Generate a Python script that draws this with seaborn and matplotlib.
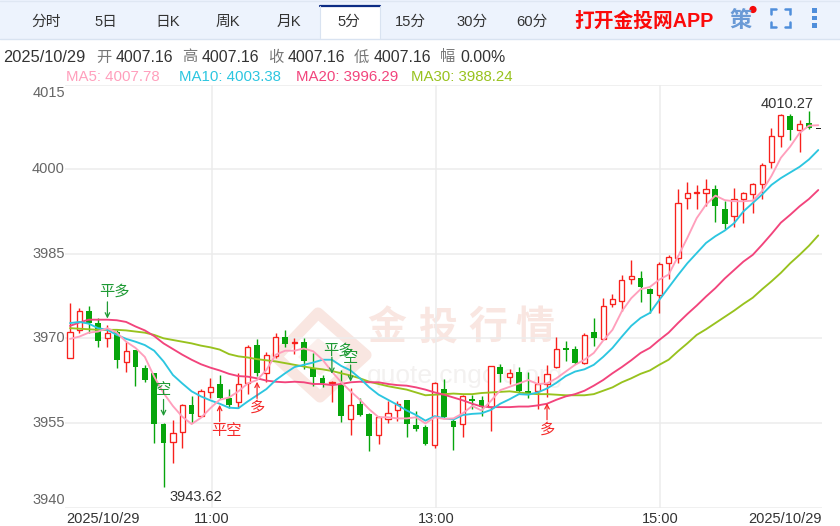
import pandas as pd
import matplotlib
matplotlib.use('Agg')
import matplotlib.pyplot as plt
from matplotlib.patches import Polygon, Rectangle, Circle
import seaborn as sns

# K线数据 (5分钟)
opens = [3966.5, 3971.5, 3974.8, 3972.8, 3970.0, 3971.2, 3965.8, 3968.0, 3964.7, 3963.9,
         3954.8, 3951.6, 3953.3, 3958.2, 3956.2, 3960.4, 3961.9, 3959.4, 3958.7, 3962.0,
         3968.8, 3963.8, 3966.9, 3970.3, 3969.1, 3969.3, 3964.7, 3962.9, 3962.0, 3961.7,
         3955.7, 3958.4, 3956.6, 3952.8, 3955.7, 3957.2, 3959.1, 3954.6, 3954.2, 3951.0,
         3961.0, 3955.4, 3954.8, 3959.2, 3959.1, 3957.9, 3965.0, 3963.1, 3964.1, 3960.6,
         3960.6, 3961.9, 3964.9, 3968.2, 3968.1, 3965.7, 3971.2, 3969.9, 3976.1, 3976.7,
         3980.5, 3980.7, 3978.7, 3977.6, 3983.3, 3984.2, 3994.9, 3995.7, 3995.8, 3996.4,
         3993.0, 3991.6, 3994.7, 3995.6, 3997.4, 4001.3, 4005.8, 4009.5, 4007.0, 4008.1,
         4007.16]
closes = [3971.2, 3974.8, 3972.7, 3969.6, 3970.9, 3966.2, 3967.8, 3964.9, 3962.6, 3954.8,
          3951.4, 3953.2, 3958.1, 3956.5, 3960.6, 3961.4, 3959.4, 3958.2, 3961.9, 3968.5,
          3963.8, 3967.0, 3970.3, 3969.0, 3969.3, 3966.0, 3963.1, 3962.0, 3962.2, 3956.2,
          3958.1, 3956.4, 3952.7, 3956.1, 3956.7, 3958.3, 3954.8, 3954.0, 3951.3, 3962.0,
          3956.1, 3954.2, 3959.7, 3958.8, 3957.9, 3965.0, 3963.7, 3963.8, 3960.7, 3960.3,
          3961.9, 3963.6, 3968.1, 3968.0, 3965.7, 3970.6, 3970.0, 3975.8, 3976.9, 3980.3,
          3981.0, 3979.1, 3977.8, 3983.2, 3984.5, 3994.0, 3995.8, 3995.8, 3996.5, 3993.5,
          3990.3, 3994.7, 3995.8, 3997.4, 4000.7, 4005.8, 4009.6, 4006.9, 4008.0, 4007.2,
          4007.16]
highs = [3976.2, 3975.3, 3975.8, 3973.6, 3972.4, 3971.5, 3969.4, 3968.0, 3965.3, 3963.9,
         3955.0, 3955.5, 3958.4, 3959.7, 3961.0, 3962.9, 3963.5, 3961.0, 3963.8, 3968.9,
         3969.9, 3967.5, 3971.0, 3971.5, 3970.0, 3970.0, 3967.4, 3963.5, 3962.5, 3964.4,
         3961.2, 3959.4, 3956.7, 3956.2, 3958.8, 3958.8, 3959.1, 3957.1, 3954.6, 3962.2,
         3962.7, 3955.9, 3960.0, 3960.0, 3959.7, 3965.1, 3965.4, 3964.5, 3964.9, 3964.0,
         3963.3, 3965.3, 3970.3, 3969.6, 3968.7, 3970.9, 3973.6, 3977.2, 3977.9, 3981.2,
         3983.9, 3982.0, 3978.9, 3983.6, 3984.7, 3996.5, 3997.7, 3997.2, 3998.2, 3997.2,
         3994.3, 3996.6, 3995.9, 3997.5, 4001.0, 4007.3, 4009.8, 4009.7, 4008.7, 4010.27,
         4007.16]
lows = [3966.5, 3970.9, 3970.9, 3968.5, 3968.4, 3964.7, 3964.1, 3961.6, 3962.3, 3951.4,
        3943.62, 3947.9, 3950.6, 3954.9, 3956.0, 3959.4, 3959.2, 3957.6, 3957.6, 3960.1,
        3963.3, 3962.2, 3966.5, 3968.4, 3967.3, 3964.5, 3961.6, 3961.3, 3958.7, 3955.2,
        3952.9, 3956.2, 3950.1, 3951.3, 3954.9, 3955.4, 3952.5, 3953.6, 3951.1, 3950.5,
        3955.8, 3950.2, 3952.5, 3957.4, 3956.2, 3953.5, 3962.3, 3961.9, 3960.3, 3959.4,
        3957.4, 3959.6, 3964.7, 3965.9, 3965.5, 3965.5, 3968.7, 3969.7, 3975.6, 3974.9,
        3979.6, 3976.5, 3974.5, 3974.5, 3980.6, 3983.3, 3993.0, 3992.9, 3993.5, 3990.6,
        3989.3, 3989.7, 3990.4, 3992.3, 3994.7, 4000.2, 4003.9, 4005.1, 4003.0, 4007.1,
        4007.16]

ma5 = [3969.9, 3970.3, 3971.0, 3971.2, 3971.8, 3971.0, 3969.4, 3968.3, 3966.7, 3963.2,
       3960.3, 3958.0, 3956.1, 3954.8, 3955.9, 3957.6, 3959.1, 3959.5, 3960.6, 3962.0,
       3962.6, 3964.4, 3967.1, 3967.8, 3967.8, 3968.2, 3967.7, 3966.2, 3964.1, 3962.2,
       3960.6, 3959.1, 3957.4, 3956.0, 3956.0, 3955.8, 3955.8, 3956.0, 3954.9, 3956.0,
       3955.7, 3955.8, 3956.7, 3958.0, 3957.2, 3958.9, 3960.8, 3961.4, 3962.0, 3962.6,
       3961.9, 3962.0, 3962.9, 3964.1, 3965.3, 3966.2, 3967.4, 3969.6, 3971.5, 3974.8,
       3977.1, 3978.7, 3979.1, 3980.4, 3981.3, 3984.5, 3987.8, 3991.3, 3993.7, 3995.3,
       3994.5, 3994.3, 3994.3, 3994.4, 3996.1, 3998.8, 4002.0, 4004.0, 4006.4, 4007.7,
       4007.78]
ma10 = [3972.7, 3972.9, 3972.6, 3971.8, 3971.5, 3970.6, 3969.9, 3969.4, 3968.8, 3967.8,
        3965.9, 3963.5, 3962.0, 3960.6, 3959.7, 3959.0, 3958.4, 3957.7, 3957.6, 3958.8,
        3959.9, 3961.0, 3962.6, 3963.8, 3964.9, 3965.3, 3965.7, 3966.2, 3966.2, 3965.1,
        3964.3, 3962.9, 3961.3, 3960.0, 3959.1, 3958.2, 3957.2, 3956.4, 3955.4, 3956.2,
        3955.8, 3955.6, 3956.4, 3956.6, 3956.7, 3957.3, 3958.4, 3959.2, 3960.1, 3960.0,
        3960.4, 3961.1, 3962.1, 3963.3, 3964.1, 3964.5, 3965.3, 3966.7, 3968.3, 3970.3,
        3972.2, 3973.6, 3974.5, 3976.8, 3979.0, 3981.2, 3983.3, 3985.1, 3986.9, 3988.1,
        3989.1, 3990.4, 3992.5, 3994.0, 3995.5, 3997.2, 3998.4, 3999.4, 4000.4, 4001.7,
        4003.38]
ma20 = [3972.2, 3972.8, 3973.3, 3973.3, 3973.3, 3973.2, 3972.9, 3972.1, 3971.4, 3970.4,
        3969.1, 3968.1, 3967.1, 3966.2, 3965.4, 3964.8, 3964.3, 3963.7, 3963.3, 3963.2,
        3962.9, 3962.5, 3962.3, 3962.2, 3962.3, 3962.2, 3961.9, 3961.9, 3961.7, 3961.9,
        3962.2, 3962.3, 3962.2, 3962.2, 3961.9, 3961.7, 3961.6, 3961.3, 3960.9, 3960.4,
        3960.0, 3959.5, 3959.0, 3958.4, 3957.9, 3957.8, 3957.8, 3957.8, 3957.9, 3957.9,
        3958.1, 3958.4, 3959.1, 3959.7, 3960.1, 3960.7, 3961.6, 3962.6, 3963.8, 3964.9,
        3966.1, 3967.4, 3968.3, 3969.7, 3971.0, 3972.7, 3974.3, 3975.8, 3977.4, 3978.9,
        3980.6, 3982.1, 3983.6, 3984.8, 3986.6, 3988.5, 3990.5, 3991.9, 3993.4, 3994.7,
        3996.29]
ma30 = [3971.8, 3971.7, 3971.6, 3971.5, 3971.5, 3971.5, 3971.4, 3971.2, 3971.0, 3970.6,
        3970.0, 3969.7, 3969.4, 3969.1, 3968.7, 3968.4, 3968.0, 3967.2, 3966.8, 3966.6,
        3966.3, 3966.1, 3965.9, 3965.6, 3965.3, 3965.0, 3964.7, 3964.5, 3964.2, 3963.8,
        3963.4, 3962.9, 3962.3, 3961.9, 3961.5, 3961.2, 3960.9, 3960.4, 3959.9, 3960.0,
        3960.1, 3960.2, 3960.1, 3960.1, 3960.3, 3960.4, 3960.5, 3960.6, 3960.4, 3960.2,
        3960.1, 3960.1, 3960.0, 3959.9, 3959.9, 3959.9, 3960.1, 3960.7, 3961.3, 3962.2,
        3962.9, 3963.7, 3964.3, 3965.3, 3966.2, 3967.7, 3969.1, 3970.6, 3971.6, 3972.7,
        3973.8, 3974.9, 3976.1, 3977.2, 3978.7, 3980.1, 3981.6, 3983.3, 3984.8, 3986.4,
        3988.24]

y_ticks = [4015, 4000, 3985, 3970, 3955, 3940]
time_labels = ['11:00', '13:00', '15:00']
tabs = ['分时', '5日', '日K', '周K', '月K', '5分', '15分', '30分', '60分']
ma_names = ['MA5', 'MA10', 'MA20', 'MA30']
ma_last = ['4007.78', '4003.38', '3996.29', '3988.24']
# 买卖信号: 下标, 箭头尖价格, 文字
signals = [(4, 3973.5, '平多'), (10, 3956.2, '空'), (16, 3958.2, '平空'), (20, 3962.3, '多'),
           (28, 3963.7, '平多'), (30, 3962.3, '空'), (51, 3958.5, '多')]

RED = '#f8211d'
GREEN = '#07a50c'
ma_colors = {'MA5': '#ff9fbc', 'MA10': '#2cc6e0', 'MA20': '#f2447c', 'MA30': '#98c21e'}

sns.set_theme(style='white')
plt.rcParams['font.family'] = ['Liberation Sans', 'Noto Sans CJK SC', 'DejaVu Sans']

W, H = 840, 526
fig = plt.figure(figsize=(W / 100, H / 100), dpi=100, facecolor='white')

# 底层: 用像素坐标画工具栏, 水印, 文字
bg = fig.add_axes([0, 0, 1, 1], zorder=0)
bg.set_xlim(0, W)
bg.set_ylim(H, 0)
bg.axis('off')

bg.add_patch(Rectangle((0, 0), W, 38.5, color='#edf3fd', lw=0))
bg.plot([0, W], [38.5, 38.5], color='#d9e3f1', lw=1)
bg.plot([0, W], [0.5, 0.5], color='#dfe7f3', lw=1)
bg.add_patch(Rectangle((319.5, 5), 60, 34, color='white', lw=0))
bg.plot([319.5, 379.5], [6, 6], color='#0c2c84', lw=1.6)
bg.plot([319.5, 319.5], [6, 38], color='#d9e3f1', lw=0.8)
bg.plot([379.5, 379.5], [6, 38], color='#d9e3f1', lw=0.8)

tab_x = [46, 106, 168, 228, 289, 349, 410, 472, 532]
for t, x in zip(tabs, tab_x):
    bg.text(x, 22, t, ha='center', va='center', fontsize=10.6, color='#333333')

bg.text(574, 21, '打开金投网APP', ha='left', va='center', fontsize=14.2, fontweight='bold', color='#fb0a0a')
bg.text(741, 21, '策', ha='center', va='center', fontsize=16, fontweight='bold', color='#6a9ad6')
bg.add_patch(Circle((753, 9.5), 3.6, color='#f50a0a', lw=0))
for cx, cy, dx, dy in [(771, 9, 1, 1), (790, 9, -1, 1), (771, 27, 1, -1), (790, 27, -1, -1)]:
    bg.plot([cx + 5 * dx, cx, cx], [cy, cy, cy + 5 * dy], color='#4f8edb', lw=1.8, solid_joinstyle='miter')
for cy in [10, 17.5, 25]:
    bg.add_patch(Rectangle((812, cy - 2), 4.5, 4.5, color='#4f8edb', lw=0))

# 日期行
info_y = 57.5
bg.text(3, info_y, '2025/10/29', va='center', fontsize=11.8, color='#333333')
for label, lx, vx, value in [('开', 96, 116, '4007.16'), ('高', 182, 202, '4007.16'), ('收', 268, 288, '4007.16'),
                             ('低', 354, 374, '4007.16'), ('幅', 440, 460, '0.00%')]:
    bg.text(lx, info_y, label, va='center', fontsize=11, color='#777777')
    bg.text(vx, info_y, value, va='center', fontsize=11.4, color='#333333')
for name, value, x in zip(ma_names, ma_last, [66, 179, 296, 411]):
    bg.text(x, 77, f'{name}: {value}', va='center', fontsize=10.8, color=ma_colors[name])

# 水印
wm = '#f9e6e1'
bg.add_patch(Polygon([(318, 313), (366, 355), (320, 397), (276, 357)], closed=True, fill=False,
                     edgecolor=wm, lw=8, joinstyle='round'))
bg.add_patch(Polygon([(318, 338), (342, 356), (320, 376), (298, 357)], closed=True, color='#fbefec', lw=0))
for ch, x in zip('金投行情', [387, 438, 488, 535]):
    bg.text(x, 329, ch, ha='center', va='center', fontsize=28, fontweight='bold', color=wm)
bg.text(367, 376, 'quote.cngold.org', ha='left', va='center', fontsize=19, color='#f3f1f0')

# K线主图
ax = fig.add_axes([65 / W, 1 - 507.5 / H, (822 - 65) / W, (507.5 - 84.5) / H], zorder=1)
ax.patch.set_alpha(0)
df = pd.DataFrame({'i': range(len(opens)), 'open': opens, 'close': closes, 'high': highs, 'low': lows})
df['top'] = df[['open', 'close']].max(axis=1)
df['bottom'] = df[['open', 'close']].min(axis=1)

ax.set_xlim(-0.535, 80.4)
ax.set_ylim(3940, 4015)
for v in y_ticks:
    ax.axhline(v, color='#ececec', lw=1.1, zorder=1)
grid_x = [15.15, 39.1, 63.07]
for v in grid_x:
    ax.axvline(v, color='#ececec', lw=1.1, zorder=1)

up = df[(df.close >= df.open) & (df.i < 80)]
down = df[df.close < df.open]
ax.vlines(up.i, up.low, up.high, color=RED, lw=1.0, zorder=2)
ax.vlines(down.i, down.low, down.high, color=GREEN, lw=1.0, zorder=2)
ax.bar(up.i, (up.top - up.bottom).clip(lower=0.2), bottom=up.bottom, width=0.56, facecolor='white',
       edgecolor=RED, linewidth=0.95, zorder=3)
ax.bar(down.i, down.top - down.bottom, bottom=down.bottom, width=0.62, color=GREEN, linewidth=0, zorder=3)
last = df.iloc[-1]
ax.bar(last.i, 0.25, bottom=last.close - 0.12, width=0.5, color='#222222', linewidth=0, zorder=3)

ma_df = pd.DataFrame({'i': range(len(ma5)), 'MA5': ma5, 'MA10': ma10, 'MA20': ma20, 'MA30': ma30})
ma_long = ma_df.melt(id_vars='i', var_name='ma', value_name='price')
sns.lineplot(data=ma_long, x='i', y='price', hue='ma', hue_order=['MA30', 'MA20', 'MA10', 'MA5'],
             palette=ma_colors, estimator=None, linewidth=1.35, legend=False, ax=ax, zorder=4)

ax.set_xlabel('')
ax.set_ylabel('')
ax.set_xticks([])
ax.set_yticks([])
sns.despine(ax=ax, left=True, bottom=True)

# 信号箭头
for i, tip, text in signals:
    red_signal = text in ('多', '平空')
    color = '#f52a2a' if red_signal else '#1f9a35'
    sign = -1 if red_signal else 1
    ax.annotate('', xy=(i, tip), xytext=(0, sign * 12), textcoords='offset points',
                arrowprops=dict(arrowstyle='->', color=color, lw=0.9, shrinkA=0, shrinkB=0,
                                mutation_scale=8), zorder=6)
    shift = 5 if len(text) == 2 else 0
    off = 17 if i in (28, 30) else 19
    ax.annotate(text, xy=(i, tip), xytext=(shift, sign * off), textcoords='offset points',
                ha='center', va='center', fontsize=11, color=color, zorder=6)

# 极值标注
ax.annotate('4010.27', xy=(79, 4010.27), xytext=(-16, 5.5), textcoords='offset points',
            ha='center', va='center', fontsize=10.5, color='#333333', zorder=6)
ax.annotate('3943.62', xy=(10, 3943.62), xytext=(23, -7.5), textcoords='offset points',
            ha='center', va='center', fontsize=10.5, color='#333333', zorder=6)

# 坐标文字
ylab_y = {4015: 93, 4000: 169, 3985: 254, 3970: 338, 3955: 423, 3940: 500}
for v, py in ylab_y.items():
    bg.text(65, py, str(v), ha='right', va='center', fontsize=10.5, color='#666666')
bg.text(66, 519, '2025/10/29', ha='left', va='center', fontsize=10.5, color='#333333')
bg.text(822, 519, '2025/10/29', ha='right', va='center', fontsize=10.5, color='#333333')
for label, x in zip(time_labels, [212, 436, 660]):
    bg.text(x, 519, label, ha='center', va='center', fontsize=10.5, color='#333333')

fig.savefig('out.png', dpi=100)
